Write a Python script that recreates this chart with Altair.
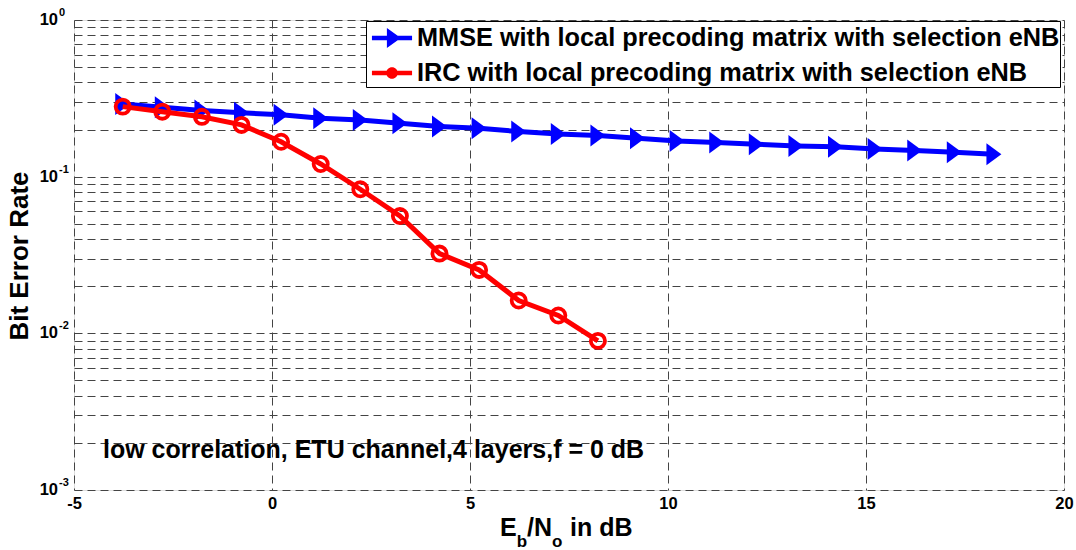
import altair as alt
import pandas as pd

FONT = "Liberation Sans"

# Eb/No (dB) for each simulated point
ebno_mmse = [-3.77, -2.77, -1.77, -0.77, 0.23, 1.23, 2.23, 3.23, 4.23, 5.23, 6.23, 7.23,
             8.23, 9.23, 10.23, 11.23, 12.23, 13.23, 14.23, 15.23, 16.23, 17.23, 18.23]
ber_mmse = [0.291, 0.277, 0.264, 0.256, 0.248, 0.236, 0.230, 0.219, 0.209, 0.204, 0.194, 0.187,
            0.183, 0.176, 0.169, 0.165, 0.161, 0.157, 0.155, 0.150, 0.147, 0.143, 0.139]

ebno_irc = [-3.77, -2.77, -1.77, -0.77, 0.23, 1.23, 2.23, 3.23, 4.23, 5.23, 6.23, 7.23, 8.23]
ber_irc = [0.280, 0.260, 0.241, 0.214, 0.167, 0.1205, 0.0831, 0.0561, 0.0323, 0.0254,
           0.0162, 0.0130, 0.00895]

s_mmse = "MMSE with local precoding matrix with selection eNB"
s_irc = "IRC with local precoding matrix with selection eNB"
series_names = [s_mmse, s_irc]
series_colors = ["#0000ff", "#ff0000"]

x_ticks = [-5, 0, 5, 10, 15, 20]
y_grid = [0.001, 0.002, 0.003, 0.004, 0.005, 0.006, 0.007, 0.008, 0.009,
          0.01, 0.02, 0.03, 0.04, 0.05, 0.06, 0.07, 0.08, 0.09,
          0.1, 0.2, 0.3, 0.4, 0.5, 0.6, 0.7, 0.8, 0.9, 1.0]
y_decades = [1.0, 0.1, 0.01, 0.001]
y_exponents = ["0", "-1", "-2", "-3"]

annotation = "low correlation, ETU channel,4 layers,f = 0 dB"

df = pd.concat([
    pd.DataFrame({"ebno": ebno_mmse, "ber": ber_mmse, "series": s_mmse}),
    pd.DataFrame({"ebno": ebno_irc, "ber": ber_irc, "series": s_irc}),
], ignore_index=True)

xs = alt.Scale(domain=[-5, 20], nice=False, zero=False)
ys = alt.Scale(type="log", domain=[0.001, 1], nice=False)
color_scale = alt.Scale(domain=series_names, range=series_colors)

# legend glyphs: line segment with the series marker on it
legend_paths = [
    "M-1.18,-0.13H1.18V0.13H-1.18Z M-0.3,-0.59L0.52,0L-0.3,0.59Z",
    "M-1.18,-0.13H1.18V0.13H-1.18Z M0.34,0A0.34,0.34 0 1,1 -0.34,0A0.34,0.34 0 1,1 0.34,0Z",
]
shape_scale = alt.Scale(domain=series_names, range=legend_paths)

tri_right = "M-0.68,-1L0.68,0L-0.68,1Z"

x_axis = alt.Axis(values=x_ticks, title=None, grid=True, gridDash=[8, 5], gridColor="#444",
                  gridWidth=1, ticks=False, tickSize=0, domain=False, labelFont=FONT,
                  labelFontSize=16.5, labelFontWeight="bold", labelColor="black",
                  labelPadding=5, labelFlush=False, labelOverlap=False,
                  labelExpr="'' + datum.value")
y_axis = alt.Axis(values=y_grid, title=None, grid=True, gridDash=[8, 5], gridColor="#444",
                  gridWidth=1, ticks=False, tickSize=0, domain=False, labels=False)

X = alt.X("ebno:Q", scale=xs, axis=x_axis)
Y = alt.Y("ber:Q", scale=ys, axis=y_axis)
C = alt.Color("series:N", scale=color_scale, legend=None)

base = alt.Chart(df)

mmse_line = base.transform_filter(alt.datum.series == s_mmse).mark_line(
    strokeWidth=5).encode(x=X, y=Y, color=C)
mmse_pts = base.transform_filter(alt.datum.series == s_mmse).mark_point(
    shape=tri_right, filled=True, size=484, opacity=1).encode(x=X, y=Y, color=C)
irc_line = base.transform_filter(alt.datum.series == s_irc).mark_line(
    strokeWidth=5).encode(x=X, y=Y, color=C)
irc_pts = base.transform_filter(alt.datum.series == s_irc).mark_point(
    shape="circle", filled=False, size=200, strokeWidth=3.8, opacity=1).encode(x=X, y=Y, color=C)

# legend-only layer: no marks drawn, entries come from the explicit scale domains
legend_layer = base.transform_filter("false").mark_point(filled=True, opacity=1).encode(
    x=X, y=Y,
    color=alt.Color("series:N", scale=color_scale, legend=alt.Legend(
        title=None, orient="none", legendX=292, legendY=1, padding=0, rowPadding=4,
        fillColor="white", strokeColor="black",
        symbolSize=1156, symbolOffset=9, labelOffset=8, symbolStrokeWidth=0,
        labelFont=FONT, labelFontSize=25.3, labelFontWeight="bold", labelColor="black",
        labelLimit=2000)),
    shape=alt.Shape("series:N", scale=shape_scale),
)

# y tick labels written as 10 with a raised exponent
ylab = pd.DataFrame({"ber": y_decades, "exp": y_exponents})
ylab_base = alt.Chart(ylab).mark_text(align="right", baseline="middle", font=FONT,
                                      fontSize=16.5, fontWeight="bold", color="black").encode(
    x=alt.value(-16), y=alt.Y("ber:Q", scale=ys), text=alt.value("10"))
ylab_exp = alt.Chart(ylab).mark_text(align="left", baseline="middle", font=FONT,
                                     fontSize=11, fontWeight="bold", color="black", dy=-7).encode(
    x=alt.value(-15), y=alt.Y("ber:Q", scale=ys), text="exp:N")

one = alt.Data(values=[{}])


def label(txt, x, y, size, **kw):
    return alt.Chart(one).mark_text(font=FONT, fontSize=size, fontWeight="bold",
                                    color="black", **kw).encode(
        x=alt.value(x), y=alt.value(y), text=alt.value(txt))


y_title = label("Bit Error Rate", -54, 236, 26, angle=270, align="center", baseline="middle")
x_title = [
    label("E", 426, 516, 25, align="left", baseline="alphabetic"),
    label("b", 442.7, 527, 17, align="left", baseline="alphabetic"),
    label("/N", 453.1, 516, 25, align="left", baseline="alphabetic"),
    label("o", 478.1, 527, 17, align="left", baseline="alphabetic"),
    label("in dB", 496, 516, 25, align="left", baseline="alphabetic"),
]
note = label(annotation, 29, 430, 25, align="left", baseline="middle")

chart = alt.layer(
    mmse_line, mmse_pts, irc_line, irc_pts, legend_layer,
    ylab_base, ylab_exp, y_title, *x_title, note,
).resolve_scale(
    color="independent", shape="independent"
).properties(
    width=990, height=470,
    autosize=alt.AutoSizeParams(type="none"),
    padding={"left": 74, "top": 20, "right": 12, "bottom": 60},
).configure_view(
    stroke="black", strokeWidth=1.5
).configure(background="white")

chart.save("out.html", embed_options={"renderer": "svg", "actions": False})
